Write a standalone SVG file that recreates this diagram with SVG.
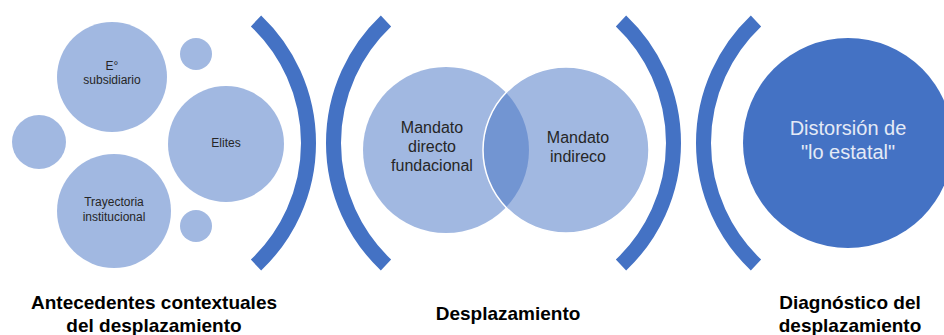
<svg xmlns="http://www.w3.org/2000/svg" width="944" height="335" viewBox="0 0 944 335">
<style>
.lc{fill:#4472C4;fill-opacity:0.5}
.br{fill:none;stroke:#4472C4;stroke-width:15;stroke-linecap:butt}
.t{font-family:"Liberation Sans",Arial,sans-serif;fill:#262626;text-anchor:middle}
.s{font-size:12px}
.m{font-size:16px}
.h{font-size:19px;font-weight:bold;fill:#000}
.w{font-size:20px;fill:#E4EAF6}
</style>
<rect width="944" height="335" fill="#fff"/>
<g id="brackets">
<path class="br" d="M256,21 A168,168 0 0 1 256,265"/>
<path class="br" d="M386,21 A168,168 0 0 0 386,265"/>
<path class="br" d="M621,21 A168,168 0 0 1 621,265"/>
<path class="br" d="M756,21 A168,168 0 0 0 756,265"/>
</g>
<g id="n-subsidiario">
<circle class="lc" cx="112" cy="77" r="55"/>
<text class="t s" x="112" y="70">E°</text>
<text class="t s" x="112" y="84">subsidiario</text>
</g>
<g id="n-small-top"><circle class="lc" cx="196" cy="54" r="16"/></g>
<g id="n-small-left"><circle class="lc" cx="39" cy="142" r="27"/></g>
<g id="n-elites">
<circle class="lc" cx="226" cy="144" r="58"/>
<text class="t s" x="226" y="147">Elites</text>
</g>
<g id="n-trayectoria">
<circle class="lc" cx="114" cy="211" r="57"/>
<text class="t s" x="114" y="206">Trayectoria</text>
<text class="t s" x="114" y="221">institucional</text>
</g>
<g id="n-small-bottom"><circle class="lc" cx="196" cy="226" r="16"/></g>
<g id="n-directo">
<circle class="lc" cx="446" cy="150" r="83"/>
</g>
<g id="n-indirecto">
<circle class="lc" cx="566" cy="150" r="83" stroke="#fff" stroke-width="1.5"/>
</g>
<g id="labels-venn">
<text class="t m" x="432" y="133">Mandato</text>
<text class="t m" x="432" y="152">directo</text>
<text class="t m" x="432" y="171">fundacional</text>
<text class="t m" x="578" y="143">Mandato</text>
<text class="t m" x="578" y="162">indireco</text>
</g>
<g id="n-distorsion">
<circle cx="848" cy="143" r="105" fill="#4472C4"/>
<text class="t w" x="848" y="135">Distorsión de</text>
<text class="t w" x="848" y="159">"lo estatal"</text>
</g>
<g id="section-labels">
<text class="t h" x="154" y="309">Antecedentes contextuales</text>
<text class="t h" x="154" y="332">del desplazamiento</text>
<text class="t h" x="508" y="320">Desplazamiento</text>
<text class="t h" x="850" y="309">Diagnóstico del</text>
<text class="t h" x="850" y="332">desplazamiento</text>
</g>
</svg>
